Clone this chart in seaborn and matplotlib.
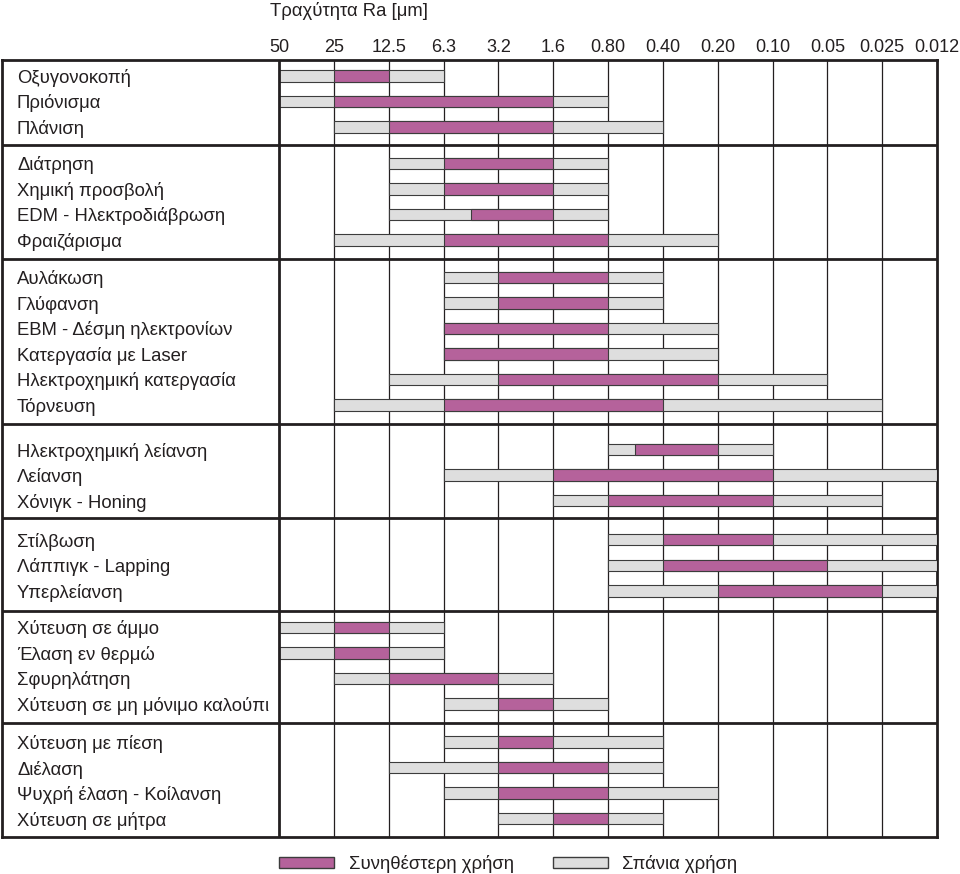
import numpy as np
import pandas as pd
import matplotlib
matplotlib.use("Agg")
import matplotlib.pyplot as plt
import seaborn as sns
from matplotlib.patches import Patch

# roughness columns, left to right (column index 0..12)
ra_labels = ["50", "25", "12.5", "6.3", "3.2", "1.6", "0.80", "0.40",
             "0.20", "0.10", "0.05", "0.025", "0.012"]

processes = [
    "Οξυγονοκοπή", "Πριόνισμα", "Πλάνιση",
    "Διάτρηση", "Χημική προσβολή", "EDM - Ηλεκτροδιάβρωση", "Φραιζάρισμα",
    "Αυλάκωση", "Γλύφανση", "EBM - Δέσμη ηλεκτρονίων", "Κατεργασία με Laser",
    "Ηλεκτροχημική κατεργασία", "Τόρνευση",
    "Ηλεκτροχημική λείανση", "Λείανση", "Χόνιγκ - Honing",
    "Στίλβωση", "Λάππιγκ - Lapping", "Υπερλείανση",
    "Χύτευση σε άμμο", "Έλαση εν θερμώ", "Σφυρηλάτηση", "Χύτευση σε μη μόνιμο καλούπι",
    "Χύτευση με πίεση", "Διέλαση", "Ψυχρή έλαση - Κοίλανση", "Χύτευση σε μήτρα",
]
groups = [1] * 3 + [2] * 4 + [3] * 6 + [4] * 3 + [5] * 3 + [6] * 4 + [7] * 4

# spans in column-index units (0 = 50 um ... 12 = 0.012 um)
rare_start = [0, 0, 1, 2, 2, 2, 1, 3, 3, 3, 3, 2, 1, 6, 3, 5, 6, 6, 6, 0, 0, 1, 3, 3, 2, 3, 4]
rare_end = [3, 6, 7, 6, 6, 6, 8, 7, 7, 8, 8, 10, 11, 9, 12, 11, 12, 12, 12, 3, 3, 5, 6, 7, 7, 8, 7]
common_start = [1, 1, 2, 3, 3, 3.5, 3, 4, 4, 3, 3, 4, 3, 6.5, 5, 6, 7, 7, 8, 1, 1, 2, 4, 4, 4, 4, 5]
common_end = [2, 5, 5, 5, 5, 5, 6, 6, 6, 6, 6, 8, 7, 8, 9, 9, 9, 10, 11, 2, 2, 4, 5, 5, 6, 6, 6]

df = pd.DataFrame({
    "process": processes, "group": groups,
    "rare_start": rare_start, "rare_end": rare_end,
    "common_start": common_start, "common_end": common_end,
})

# row positions: one unit per row, padding above/below each group
pad_top = [0.62, 0.70, 0.71, 1.00, 0.84, 0.64, 0.73]
pad_bottom = [0.73, 0.76, 0.75, 0.69, 0.79, 0.77, 0.72]
ypos = []
bounds = [0.0]
y = 0.0
for k, (g, sub) in enumerate(df.groupby("group", sort=True)):
    y += pad_top[k]
    for i in range(len(sub)):
        ypos.append(y + i)
    y += len(sub) - 1 + pad_bottom[k]
    bounds.append(y)
df["y"] = ypos
y_total = bounds[-1]

sns.set_theme(style="white")
plt.rcParams["font.family"] = ["Liberation Sans", "DejaVu Sans"]

ink = "#231F20"
edge = "#3C3C3C"
pink = "#B5629B"
grey = "#DEDEDE"
fs = 13.3

fig = plt.figure(figsize=(9.6, 8.74), dpi=100)
ax = fig.add_axes([2 / 960, 1 - 837 / 874, 935 / 960, 777 / 874])
x_left = -277 / ((937 - 279) / 12)
ax.set_xlim(x_left, 12)
ax.set_ylim(y_total, 0)

# grid
ax.vlines(range(1, 12), 0, y_total, color=ink, lw=0.9, zorder=1)
ax.axvline(0, color=ink, lw=2, zorder=5)
ax.hlines(bounds[1:-1], x_left, 12, color=ink, lw=2, zorder=5)

bh = 0.45
ax.barh(df["y"], df["rare_end"] - df["rare_start"], left=df["rare_start"],
        height=bh, color=grey, edgecolor=edge, linewidth=0.8, zorder=3)
ax.barh(df["y"], df["common_end"] - df["common_start"], left=df["common_start"],
        height=bh, color=pink, edgecolor=edge, linewidth=0.8, zorder=4)

label_x = x_left + 15 / ((937 - 279) / 12)
for name, yy in zip(df["process"], df["y"]):
    ax.text(label_x, yy, name, ha="left", va="center_baseline", fontsize=fs, color=ink)

ax.xaxis.tick_top()
ax.set_xticks(range(13))
ax.set_xticklabels(ra_labels, fontsize=13, color=ink)
ax.set_yticks([])
ax.tick_params(axis="x", length=0, pad=3)
for s in ax.spines.values():
    s.set_visible(True)
    s.set_color(ink)
    s.set_linewidth(2)

fig.text(270 / 960, 1 - 16 / 874, "Τραχύτητα Ra [μm]", ha="left", va="baseline",
         fontsize=fs, color=ink)

handles = [Patch(facecolor=pink, edgecolor=edge, label="Συνηθέστερη χρήση"),
           Patch(facecolor=grey, edgecolor=edge, label="Σπάνια χρήση")]
fig.legend(handles=handles, loc="upper left", bbox_to_anchor=(279 / 960, 1 - 855 / 874),
           ncol=2, frameon=False, fontsize=fs, handlelength=2.98, handleheight=0.62,
           handletextpad=0.8, columnspacing=2.1, borderpad=0, borderaxespad=0,
           labelcolor=ink)

fig.savefig("out.png", dpi=100)
